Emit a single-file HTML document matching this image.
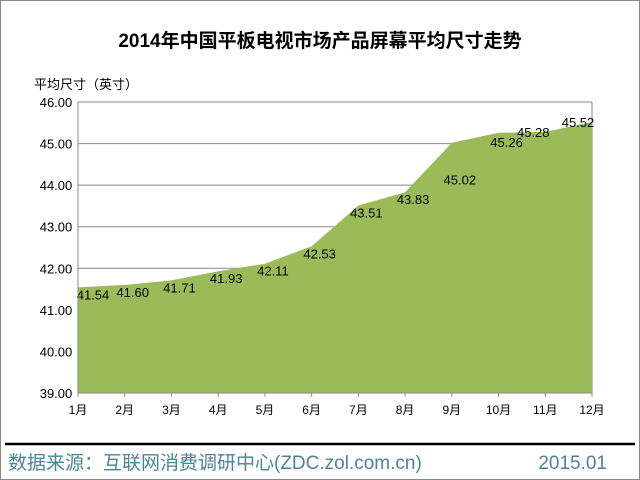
<!DOCTYPE html>
<html><head><meta charset="utf-8"><style>
body{margin:0;background:#fff}
svg{display:block;font-family:"Liberation Sans","Noto Sans CJK SC",sans-serif}
</style></head><body>
<svg width="640" height="480" viewBox="0 0 640 480">
<rect x="0.5" y="0.5" width="639" height="479" fill="#fff" stroke="#888"/>
<text x="320" y="47" text-anchor="middle" font-size="19" font-weight="bold" fill="#000">2014年中国平板电视市场产品屏幕平均尺寸走势</text>
<text x="34" y="89" font-size="13" fill="#000">平均尺寸（英寸）</text>
<g id="grid"></g>
<g id="area"></g>
<g id="labels"></g>
<g id="axes"></g>
<line x1="5" y1="444" x2="635" y2="444" stroke="#000" stroke-width="2.5"/>
<text x="8" y="469" font-size="19" fill="#4a8595">数据来源：互联网消费调研中心(ZDC.zol.com.cn)</text>
<text x="607" y="469" text-anchor="end" font-size="19" fill="#4a8595">2015.01</text>
</svg>
<script>
const categories=["1月","2月","3月","4月","5月","6月","7月","8月","9月","10月","11月","12月"];
const values=[41.54,41.60,41.71,41.93,42.11,42.53,43.51,43.83,45.02,45.26,45.28,45.52];
const yTicks=[39,40,41,42,43,44,45,46];
const NS="http://www.w3.org/2000/svg";
const L=78,R=592,T=102,B=393,yMin=39,yMax=46;
const x=i=>L+i*(R-L)/(categories.length-1);
const y=v=>B-(v-yMin)/(yMax-yMin)*(B-T);
function mk(tag,attrs,parent,text){const e=document.createElementNS(NS,tag);for(const k in attrs)e.setAttribute(k,attrs[k]);if(text!==undefined)e.textContent=text;document.getElementById(parent).appendChild(e);return e;}
yTicks.forEach(t=>{
  const g=mk("line",{x1:L,x2:R,y1:y(t),y2:y(t),stroke:"#8a8a8a","stroke-width":1},"grid");
  
  
  const tl=mk("text",{x:56,y:y(t)+5,"text-anchor":"middle","font-size":13,fill:"#000"},"axes",t.toFixed(2));
  
  
});
const fr=mk("line",{x1:R,x2:R,y1:T,y2:B,stroke:"#8a8a8a"},"grid");


let d=`M${x(0)},${B}`;values.forEach((v,i)=>d+=` L${x(i)},${y(v)}`);d+=` L${x(values.length-1)},${B} Z`;
const a=mk("path",{d:d,fill:"#9bbb59"},"area");


const ya=mk("line",{x1:L,x2:L,y1:T,y2:B,stroke:"#8a8a8a"},"axes");


const xa=mk("line",{x1:L,x2:R,y1:B,y2:B,stroke:"#8a8a8a"},"axes");


categories.forEach((c,i)=>{
  const tk=mk("line",{x1:x(i),x2:x(i),y1:B,y2:B+4,stroke:"#8a8a8a"},"axes");
  
  
  const tl=mk("text",{x:x(i),y:B+21,"text-anchor":"middle","font-size":12,fill:"#000"},"axes",c);
  
  
  const dy=i==8?42:i==9?14:i>=10?5:12;
  const dx=i==0?15:i==10?-12:i==11?-14:8;
  const vl=mk("text",{x:x(i)+dx,y:y(values[i])+dy,"text-anchor":"middle","font-size":13,fill:"#000"},"labels",values[i].toFixed(2));
  
  
});
</script>
</body></html>
